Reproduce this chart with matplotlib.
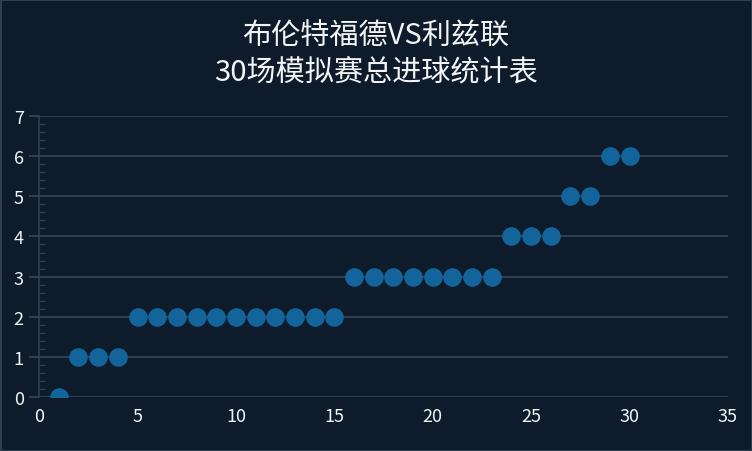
import numpy as np
import matplotlib
matplotlib.use("Agg")
from matplotlib import pyplot as plt
from matplotlib.ticker import MultipleLocator

plt.rcParams['font.family'] = ['Noto Sans CJK SC', 'DejaVu Sans']

matches = list(range(1, 31))
goals = [0, 1, 1, 1, 2, 2, 2, 2, 2, 2, 2, 2, 2, 2, 2,
         3, 3, 3, 3, 3, 3, 3, 3, 4, 4, 4, 5, 5, 6, 6]
title_lines = ["布伦特福德VS利兹联", "30场模拟赛总进球统计表"]

bg = "#0d1b2b"
grid_col = "#2e3f50"
text_col = "#f2f4f6"
dot_col = "#13649b"

fig = plt.figure(figsize=(7.52, 4.52), dpi=100, facecolor=bg,
                 edgecolor="#2e3f50", linewidth=2)
ax = fig.add_axes([0.052, 0.1195, 0.916, 0.6215])
ax.set_facecolor(bg)

ax.scatter(matches, goals, s=180, color=dot_col, zorder=3, linewidths=0)

ax.set_xlim(0, 35)
ax.set_ylim(0, 7)
ax.xaxis.set_major_locator(MultipleLocator(5))
ax.yaxis.set_major_locator(MultipleLocator(1))
ax.yaxis.set_minor_locator(MultipleLocator(0.2))

ax.grid(axis="y", color=grid_col, linewidth=1.5, zorder=0)
ax.set_axisbelow(True)
for side in ["top", "right", "bottom"]:
    ax.spines[side].set_visible(False)
ax.spines["left"].set_color(grid_col)
ax.spines["left"].set_linewidth(1.2)

ax.tick_params(axis="y", which="major", length=7, width=1.5, color=grid_col,
               labelcolor=text_col, labelsize=13, pad=4)
ax.tick_params(axis="y", which="minor", direction="in", length=4, width=1,
               color=grid_col)
ax.tick_params(axis="x", length=0, labelcolor=text_col, labelsize=13, pad=7)

fig.text(0.5, 0.918, title_lines[0], ha="center", va="center",
         color=text_col, fontsize=21)
fig.text(0.5, 0.840, title_lines[1], ha="center", va="center",
         color=text_col, fontsize=21)

fig.savefig("out.png", dpi=100, facecolor=bg, edgecolor="#2e3f50")
